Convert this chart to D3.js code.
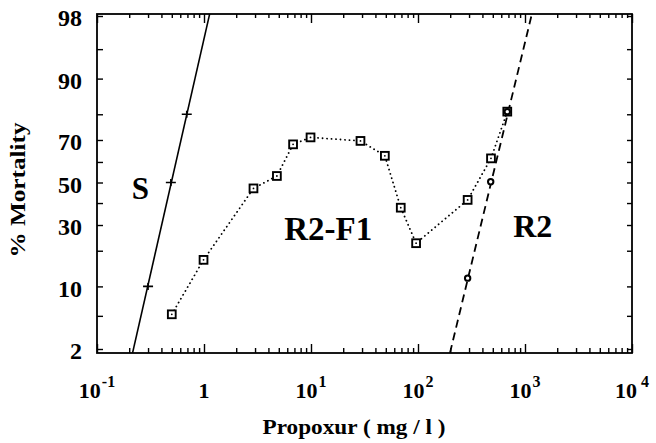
<!DOCTYPE html>
<html><head><meta charset="utf-8">
<script src="https://cdn.jsdelivr.net/npm/d3@7"></script>
<style>
html,body{margin:0;padding:0;background:#fff;}
svg{display:block;}
text{font-family:"Liberation Serif","Times New Roman",serif;font-weight:bold;fill:#000;}
</style></head>
<body>
<svg id="chart" width="656" height="443"></svg>
<script>
// ---- data ----
const xMajor = [0.1, 1, 10, 100, 1000, 10000];
const xLabelBase = ["10", "1", "10", "10", "10", "10"];
const xLabelExp = ["-1", "", "1", "2", "3", "4"];
const yTickPct = [2, 5, 10, 20, 30, 40, 50, 60, 70, 80, 90, 95, 98];
const yLabelPct = [2, 10, 30, 50, 70, 90, 98];

// S strain: observed points and fitted probit line
const sDose = [0.30, 0.49, 0.69];
const sPct = [10, 50, 80];
const sFitDose = [0.215, 1.13];
const sFitPct = [1.78, 98.12];

// R2-F1: observed points
const r2f1Dose = [0.5, 0.99, 2.9, 4.8, 6.8, 9.9, 29, 49, 69, 96, 291, 481, 683];
const r2f1Pct = [5.2, 17.0, 47.1, 53.2, 68.1, 71.1, 69.6, 62.9, 37.8, 22.7, 41.5, 61.7, 80.9];

// R2: observed points and fitted probit line
const r2Dose = [291, 478, 683];
const r2Pct = [11.9, 50.4, 80.9];
const r2FitDose = [199, 1160];
const r2FitPct = [1.78, 98.12];

const labels = [
  {text: "S", dose: 0.255, pct: 42, size: 31},
  {text: "R2-F1", dose: 14.5, pct: 24, size: 33},
  {text: "R2", dose: 1180, pct: 25, size: 32}
];

// ---- probit (inverse normal CDF, Acklam) ----
function probit(p) {
  const a = [-3.969683028665376e+01, 2.209460984245205e+02, -2.759285104469687e+02, 1.383577518672690e+02, -3.066479806614716e+01, 2.506628277459239e+00];
  const b = [-5.447609879822406e+01, 1.615858368580409e+02, -1.556989798598866e+02, 6.680131188771972e+01, -1.328068155288572e+01];
  const c = [-7.784894002430293e-03, -3.223964580411365e-01, -2.400758277161838e+00, -2.549671984032625e+00, 4.374664141464968e+00, 2.938163982698783e+00];
  const d = [7.784695709041462e-03, 3.224671290700398e-01, 2.445134137142996e+00, 3.754408661907416e+00];
  const pl = 0.02425;
  let q, r;
  if (p < pl) {
    q = Math.sqrt(-2 * Math.log(p));
    return (((((c[0]*q+c[1])*q+c[2])*q+c[3])*q+c[4])*q+c[5]) / ((((d[0]*q+d[1])*q+d[2])*q+d[3])*q+1);
  } else if (p <= 1 - pl) {
    q = p - 0.5; r = q * q;
    return (((((a[0]*r+a[1])*r+a[2])*r+a[3])*r+a[4])*r+a[5])*q / (((((b[0]*r+b[1])*r+b[2])*r+b[3])*r+b[4])*r+1);
  } else {
    q = Math.sqrt(-2 * Math.log(1 - p));
    return -(((((c[0]*q+c[1])*q+c[2])*q+c[3])*q+c[4])*q+c[5]) / ((((d[0]*q+d[1])*q+d[2])*q+d[3])*q+1);
  }
}

// ---- layout ----
const box = {left: 97, right: 632, top: 14, bottom: 353};
const svg = d3.select("#chart");

const x = d3.scaleLog().domain([0.1, 10000]).range([box.left, box.right]);
const yz = d3.scaleLinear().domain([probit(0.02), probit(0.98)]).range([349, 16]);
const y = pct => yz(probit(pct / 100));

const xMinor = [];
for (let e = -1; e < 4; e++) for (let m = 2; m <= 9; m++) xMinor.push(m * Math.pow(10, e));

// frame
svg.append("rect")
  .attr("x", box.left).attr("y", box.top)
  .attr("width", box.right - box.left).attr("height", box.bottom - box.top)
  .attr("fill", "none").attr("stroke", "#000").attr("stroke-width", 1.8);

function styleAxis(g) {
  g.select(".domain").remove();
  g.selectAll(".tick line").attr("stroke", "#000").attr("stroke-width", 1.4);
}

// x ticks bottom / top
svg.append("g").attr("transform", `translate(0,${box.bottom})`)
  .call(d3.axisBottom(x).tickValues(xMajor).tickSizeInner(-9).tickSizeOuter(0).tickFormat(""))
  .call(styleAxis);
svg.append("g").attr("transform", `translate(0,${box.bottom})`)
  .call(d3.axisBottom(x).tickValues(xMinor).tickSizeInner(-5).tickSizeOuter(0).tickFormat(""))
  .call(styleAxis);
svg.append("g").attr("transform", `translate(0,${box.top})`)
  .call(d3.axisTop(x).tickValues(xMajor).tickSizeInner(-9).tickSizeOuter(0).tickFormat(""))
  .call(styleAxis);
svg.append("g").attr("transform", `translate(0,${box.top})`)
  .call(d3.axisTop(x).tickValues(xMinor).tickSizeInner(-4).tickSizeOuter(0).tickFormat(""))
  .call(styleAxis);

// y ticks left (with labels) / right
svg.append("g").attr("transform", `translate(${box.left},0)`)
  .call(d3.axisLeft(yz).tickValues(yTickPct.map(p => probit(p / 100))).tickSizeInner(-6).tickSizeOuter(0).tickFormat(""))
  .call(styleAxis);
const yl = svg.append("g").attr("transform", `translate(${box.left},0)`)
  .call(d3.axisLeft(yz).tickValues(yLabelPct.map(p => probit(p / 100))).tickSizeInner(0).tickSizeOuter(0)
    .tickPadding(15).tickFormat((d, i) => yLabelPct[i]))
  .call(styleAxis);
yl.selectAll(".tick text")
  .attr("font-family", "Liberation Serif").attr("font-weight", "bold")
  .attr("font-size", 24).attr("fill", "#000").attr("dy", "0.40em");
svg.append("g").attr("transform", `translate(${box.right},0)`)
  .call(d3.axisRight(yz).tickValues(yTickPct.map(p => probit(p / 100))).tickSizeInner(-5).tickSizeOuter(0).tickFormat(""))
  .call(styleAxis);

// x tick labels with superscripts
const xl = svg.append("g");
xMajor.forEach((v, i) => {
  const t = xl.append("text").attr("x", x(v)).attr("y", 398)
    .attr("text-anchor", "middle").attr("font-size", 22);
  t.append("tspan").text(xLabelBase[i]);
  if (xLabelExp[i]) {
    t.append("tspan").attr("font-size", 16).attr("dy", -11)
      .attr("dx", xLabelExp[i] === "4" ? 4 : 1).text(xLabelExp[i]);
  }
});

// axis titles
svg.append("text").attr("x", 354).attr("y", 434).attr("text-anchor", "middle")
  .attr("font-size", 21).attr("textLength", 183).attr("lengthAdjust", "spacingAndGlyphs")
  .text("Propoxur ( mg / l )");
svg.append("text").attr("transform", "translate(25,190) rotate(-90)").attr("text-anchor", "middle")
  .attr("font-size", 21).attr("textLength", 135).attr("lengthAdjust", "spacingAndGlyphs")
  .text("% Mortality");

// clip for lines
svg.append("clipPath").attr("id", "plotClip").append("rect")
  .attr("x", box.left).attr("y", box.top)
  .attr("width", box.right - box.left).attr("height", box.bottom - box.top);
const plot = svg.append("g").attr("clip-path", "url(#plotClip)");

const line = d3.line().x(d => x(d[0])).y(d => y(d[1])).curve(d3.curveLinear);

// S fitted line
plot.append("path").datum(d3.zip(sFitDose, sFitPct)).attr("d", line)
  .attr("fill", "none").attr("stroke", "#000").attr("stroke-width", 1.6);
// R2 fitted line (dashed)
plot.append("path").datum(d3.zip(r2FitDose, r2FitPct)).attr("d", line)
  .attr("fill", "none").attr("stroke", "#000").attr("stroke-width", 1.8)
  .attr("stroke-dasharray", "8,5");
// R2-F1 dotted
plot.append("path").datum(d3.zip(r2f1Dose, r2f1Pct)).attr("d", line)
  .attr("fill", "none").attr("stroke", "#000").attr("stroke-width", 1.8)
  .attr("stroke-linecap", "round").attr("stroke-dasharray", "0.1,4.4");

// S markers (+)
const sPts = d3.zip(sDose, sPct);
plot.selectAll(".splus").data(sPts).enter().append("path")
  .attr("d", d => `M${x(d[0]) - 5},${y(d[1])}h10M${x(d[0])},${y(d[1]) - 3.5}v7`)
  .attr("stroke", "#000").attr("stroke-width", 1.6);

// R2-F1 squares
const sq = plot.selectAll(".sq").data(d3.zip(r2f1Dose, r2f1Pct)).enter().append("g")
  .attr("transform", d => `translate(${x(d[0])},${y(d[1])})`);
sq.append("rect").attr("x", -3.9).attr("y", -3.9).attr("width", 7.8).attr("height", 7.8)
  .attr("fill", "#fff").attr("stroke", "#000").attr("stroke-width", 1.9);
sq.append("circle").attr("r", 0.9).attr("fill", "#000");

// R2 circles
plot.selectAll(".r2c").data(d3.zip(r2Dose, r2Pct)).enter().append("circle")
  .attr("cx", d => x(d[0])).attr("cy", d => y(d[1])).attr("r", 2.7)
  .attr("fill", "#fff").attr("stroke", "#000").attr("stroke-width", 2);

// curve labels
svg.selectAll(".lbl").data(labels).enter().append("text")
  .attr("x", d => x(d.dose)).attr("y", d => y(d.pct))
  .attr("text-anchor", "middle").attr("font-size", d => d.size)
  .text(d => d.text);
</script>
</body></html>
